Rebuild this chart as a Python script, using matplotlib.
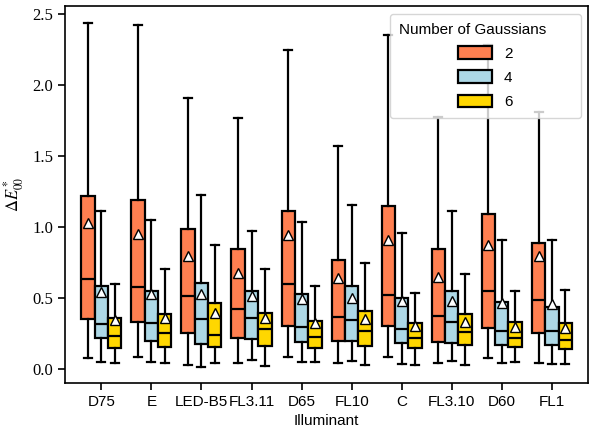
import matplotlib
matplotlib.use("Agg")
import matplotlib.pyplot as plt
from matplotlib.patches import Patch
import numpy as np

illuminants = ["D75", "E", "LED-B5", "FL3.11", "D65", "FL10", "C", "FL3.10", "D60", "FL1"]
n_gaussians = ["2", "4", "6"]
box_colors = ["#FF7F50", "#ADD8E6", "#FFD700"]

# per hue: lists over illuminants
whis_lo = {
    "2": [0.075, 0.085, 0.028, 0.044, 0.087, 0.040, 0.087, 0.040, 0.075, 0.040],
    "4": [0.051, 0.049, 0.016, 0.066, 0.049, 0.056, 0.037, 0.059, 0.040, 0.033],
    "6": [0.044, 0.044, 0.044, 0.019, 0.049, 0.028, 0.026, 0.026, 0.047, 0.033],
}
q1 = {
    "2": [0.352, 0.333, 0.251, 0.220, 0.305, 0.200, 0.303, 0.190, 0.286, 0.251],
    "4": [0.216, 0.197, 0.174, 0.211, 0.192, 0.197, 0.185, 0.180, 0.169, 0.169],
    "6": [0.150, 0.157, 0.155, 0.164, 0.150, 0.164, 0.145, 0.169, 0.153, 0.139],
}
median = {
    "2": [0.632, 0.575, 0.514, 0.420, 0.596, 0.368, 0.523, 0.373, 0.547, 0.486],
    "4": [0.320, 0.326, 0.350, 0.357, 0.293, 0.345, 0.279, 0.333, 0.270, 0.270],
    "6": [0.232, 0.254, 0.237, 0.279, 0.223, 0.268, 0.216, 0.260, 0.216, 0.204],
}
q3 = {
    "2": [1.220, 1.190, 0.983, 0.843, 1.115, 0.768, 1.148, 0.847, 1.094, 0.890],
    "4": [0.585, 0.550, 0.608, 0.547, 0.528, 0.585, 0.502, 0.552, 0.474, 0.434],
    "6": [0.357, 0.387, 0.467, 0.397, 0.340, 0.410, 0.326, 0.387, 0.331, 0.326],
}
whis_hi = {
    "2": [2.437, 2.420, 1.910, 1.768, 2.249, 1.570, 2.355, 1.772, 2.280, 1.812],
    "4": [1.113, 1.047, 1.223, 0.974, 1.035, 1.153, 0.955, 1.113, 0.911, 0.911],
    "6": [0.596, 0.706, 0.875, 0.706, 0.585, 0.744, 0.537, 0.669, 0.549, 0.556],
}
mean = {
    "2": [1.025, 0.950, 0.795, 0.673, 0.940, 0.641, 0.908, 0.650, 0.872, 0.798],
    "4": [0.545, 0.528, 0.528, 0.511, 0.495, 0.497, 0.481, 0.481, 0.462, 0.457],
    "6": [0.345, 0.359, 0.395, 0.359, 0.325, 0.352, 0.305, 0.333, 0.298, 0.286],
}

plt.rcParams["font.family"] = "Liberation Sans"
plt.rcParams["mathtext.fontset"] = "stix"

fig = plt.figure(figsize=(5.89, 4.33), dpi=100)
ax = fig.add_axes([0.110, 0.1155, 0.889, 0.8705])

box_w = 0.8 / len(n_gaussians)
for j, g in enumerate(n_gaussians):
    stats = []
    for i in range(len(illuminants)):
        stats.append(dict(whislo=whis_lo[g][i], q1=q1[g][i], med=median[g][i],
                          q3=q3[g][i], whishi=whis_hi[g][i], mean=mean[g][i]))
    pos = np.arange(len(illuminants)) + (j - 1) * box_w
    ax.bxp(stats, positions=pos, widths=box_w, capwidths=box_w * 0.6,
           showmeans=True, showfliers=False, patch_artist=True, manage_ticks=False,
           boxprops=dict(facecolor=box_colors[j], edgecolor="black", linewidth=1.6),
           medianprops=dict(color="black", linewidth=1.6),
           whiskerprops=dict(color="black", linewidth=1.6),
           capprops=dict(color="black", linewidth=1.6),
           meanprops=dict(marker="^", markerfacecolor="white",
                          markeredgecolor="black", markersize=6.5))

ax.set_xticks(np.arange(len(illuminants)))
ax.set_xticklabels(illuminants, fontsize=11)
ax.set_xlim(-0.73, 9.73)
ax.set_ylim(-0.099, 2.556)
ax.set_yticks([0.0, 0.5, 1.0, 1.5, 2.0, 2.5])
ax.set_yticklabels(["0.0", "0.5", "1.0", "1.5", "2.0", "2.5"],
                   fontfamily="Liberation Serif", fontsize=12)
ax.set_xlabel("Illuminant", fontsize=11)
ax.set_ylabel(r"$\Delta E^*_{00}$", fontsize=12)
for s in ax.spines.values():
    s.set_linewidth(1.2)
ax.tick_params(width=1.2, length=5)

handles = [Patch(facecolor=c, edgecolor="black", linewidth=1.6) for c in box_colors]
leg = ax.legend(handles, n_gaussians, title="Number of Gaussians" + " " * 6,
                loc="upper right", fontsize=11, title_fontsize=11,
                handlelength=2.2, handleheight=0.85, labelspacing=0.63,
                borderpad=0.6)

fig.savefig("out.png", dpi=100)
